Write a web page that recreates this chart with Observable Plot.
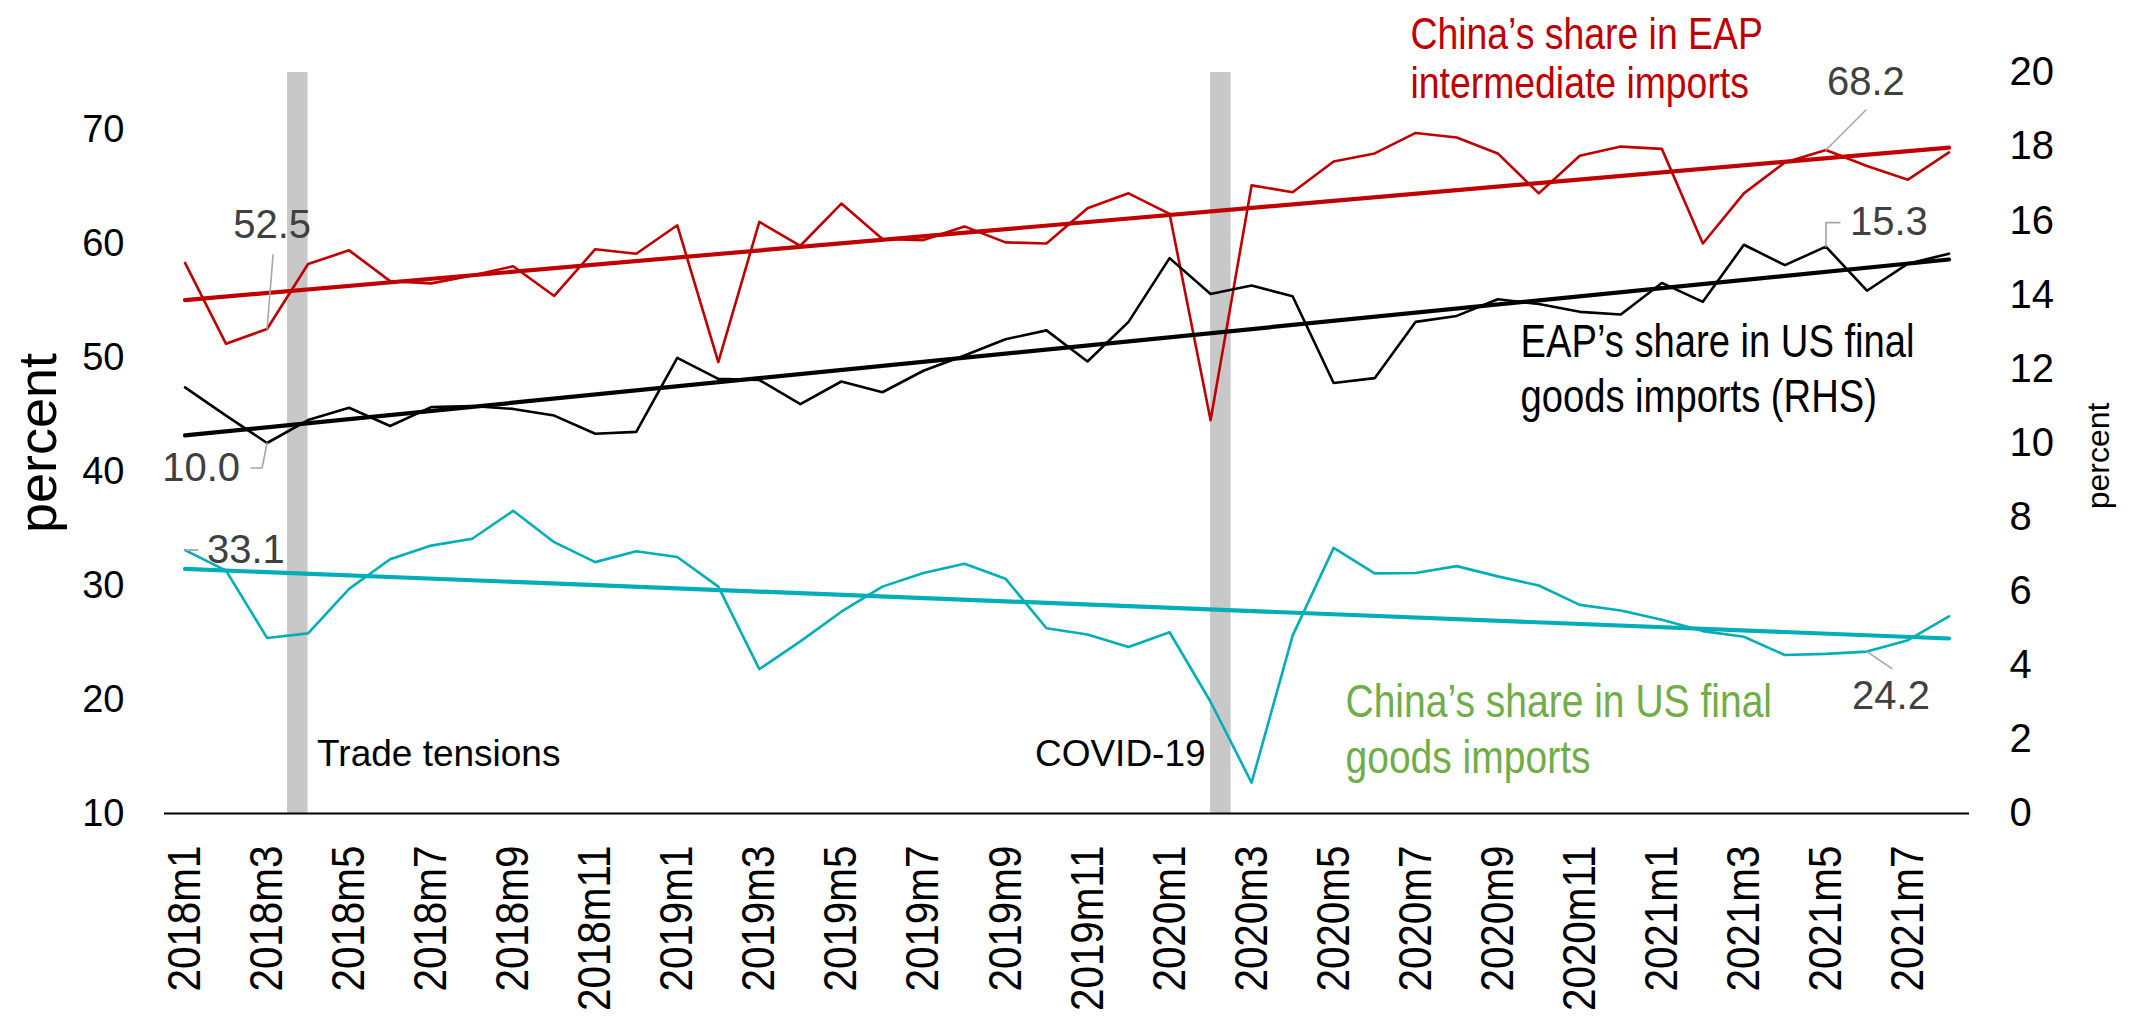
<!DOCTYPE html>
<html>
<head>
<meta charset="utf-8">
<script src="https://cdn.jsdelivr.net/npm/d3@7"></script>
<script src="https://cdn.jsdelivr.net/npm/@observablehq/plot@0.6"></script>
<style>
  html, body { margin: 0; padding: 0; background: #fff; }
  #chart svg { display: block; }
</style>
</head>
<body>
<div id="chart"></div>
<script>
// ---------- data ----------
const months = [
  "2018m1","2018m2","2018m3","2018m4","2018m5","2018m6","2018m7","2018m8","2018m9","2018m10","2018m11","2018m12",
  "2019m1","2019m2","2019m3","2019m4","2019m5","2019m6","2019m7","2019m8","2019m9","2019m10","2019m11","2019m12",
  "2020m1","2020m2","2020m3","2020m4","2020m5","2020m6","2020m7","2020m8","2020m9","2020m10","2020m11","2020m12",
  "2021m1","2021m2","2021m3","2021m4","2021m5","2021m6","2021m7","2021m8"
];
const tickLabels = [
  "2018m1","2018m3","2018m5","2018m7","2018m9","2018m11",
  "2019m1","2019m3","2019m5","2019m7","2019m9","2019m11",
  "2020m1","2020m3","2020m5","2020m7","2020m9","2020m11",
  "2021m1","2021m3","2021m5","2021m7"
];
// China's share in EAP intermediate imports (left axis, percent)
const chinaEAPIntermediate = [
  58.3,51.2,52.5,58.2,59.4,56.7,56.5,57.2,58.0,55.4,59.5,59.1,
  61.6,49.6,61.9,59.8,63.5,60.4,60.3,61.5,60.1,60.0,63.1,64.4,
  62.6,44.5,65.1,64.5,67.2,67.9,69.7,69.3,67.9,64.4,67.7,68.5,
  68.3,60.0,64.4,67.1,68.2,66.8,65.6,68.0
];
// EAP's share in US final goods imports (right axis, percent)
const eapUSFinal = [
  11.5,10.74,10.0,10.62,10.95,10.46,10.97,11.0,10.92,10.74,10.25,10.3,
  12.3,11.73,11.7,11.05,11.66,11.37,11.95,12.36,12.8,13.04,12.2,13.27,
  14.99,14.02,14.25,13.96,11.62,11.75,13.27,13.43,13.88,13.75,13.54,13.47,
  14.32,13.81,15.35,14.8,15.3,14.11,14.84,15.11
];
// China's share in US final goods imports (left axis, percent)
const chinaUSFinal = [
  33.1,31.3,25.4,25.8,29.7,32.3,33.5,34.1,36.55,33.8,32.05,33.0,
  32.5,29.9,22.66,25.1,27.7,29.9,31.1,31.9,30.6,26.25,25.7,24.6,
  25.9,19.8,12.7,25.6,33.3,31.06,31.1,31.7,30.8,30.0,28.3,27.8,
  27.0,26.0,25.5,23.9,24.0,24.2,25.2,27.3
];
const leftTicks = [10,20,30,40,50,60,70];
const rightTicks = [0,2,4,6,8,10,12,14,16,18,20];
const leftDomain = [10, 75];
const rightDomain = [0, 20];
// shaded event periods (in month-index units)
const eventNames = ["Trade tensions", "COVID-19"];
const eventStart = [2.5, 25];
const eventEnd = [3, 25.5];
// callouts: series and month
const calloutSeries = ["red","black","red","black","cyan","cyan"];
const calloutMonth = ["2018m3","2018m3","2021m5","2021m5","2018m1","2021m6"];
const seriesLabels = [
  "China\u2019s share in EAP\nintermediate imports",
  "EAP\u2019s share in US final\ngoods imports (RHS)",
  "China\u2019s share in US final\ngoods imports"
];

// ---------- helpers ----------
const toLeft = r => leftDomain[0] + (r - rightDomain[0]) * (leftDomain[1]-leftDomain[0])/(rightDomain[1]-rightDomain[0]);
const toRight = l => rightDomain[0] + (l - leftDomain[0]) * (rightDomain[1]-rightDomain[0])/(leftDomain[1]-leftDomain[0]);

const data = months.map((m, i) => ({
  i, month: m,
  red: chinaEAPIntermediate[i],
  black: toLeft(eapUSFinal[i]),
  cyan: chinaUSFinal[i]
}));

const W = 2129, H = 1017;
const mL = 164, mR = 160, mT = 72, mB = 204;
const xDomain = [-0.5, months.length - 0.5];
const pxX = (W - mL - mR) / (xDomain[1] - xDomain[0]);
const pxY = (H - mT - mB) / (leftDomain[1] - leftDomain[0]);

const RED = "#C00000", BLACK = "#000000", CYAN = "#00AEB8", GREEN = "#70AD47";
const LABEL = "#404040", LEADER = "#A6A6A6";

// callout layout (pixel offsets from the data point)
const calloutLayout = {
  "red|2018m3":   {leader: [[0,0],[6,-74]], text: [5,-104], anchor: "middle"},
  "black|2018m3": {leader: [[0,0],[-5,25],[-16,25]], text: [-27,25], anchor: "end"},
  "red|2021m5":   {leader: [[0,0],[40,-40]], text: [40,-68], anchor: "middle"},
  "black|2021m5": {leader: [[0,0],[0,-24],[14,-24]], text: [24,-24], anchor: "start"},
  "cyan|2018m1":  {leader: [[0,0],[13,0]], text: [22,0], anchor: "start"},
  "cyan|2021m6":  {leader: [[0,0],[25,17]], text: [24,45], anchor: "middle"}
};
const srcValue = {
  red: i => chinaEAPIntermediate[i],
  black: i => eapUSFinal[i],
  cyan: i => chinaUSFinal[i]
};
const leaderPts = [];
const calloutText = [];
calloutSeries.forEach((s, k) => {
  const i = months.indexOf(calloutMonth[k]);
  const py = data[i][s];
  const lay = calloutLayout[s + "|" + calloutMonth[k]];
  lay.leader.forEach(([dx, dy]) => leaderPts.push({id: k, x: i + dx/pxX, y: py - dy/pxY}));
  calloutText.push({
    x: i + lay.text[0]/pxX, y: py - lay.text[1]/pxY,
    label: srcValue[s](i).toFixed(1), anchor: lay.anchor
  });
});

const events = eventNames.map((n, k) => ({name: n, start: eventStart[k], end: eventEnd[k]}));

const chart = Plot.plot({
  width: W, height: H,
  marginLeft: mL, marginRight: mR, marginTop: mT, marginBottom: mB,
  style: {fontFamily: "'Liberation Sans', Arial, sans-serif", background: "#fff", color: "#000", overflow: "visible"},
  x: {type: "linear", domain: xDomain, axis: null},
  y: {domain: leftDomain, axis: null},
  marks: [
    Plot.rect(events, {x1: "start", x2: "end", fill: "#C8C8C8"}),
    Plot.ruleY([leftDomain[0]], {stroke: BLACK, strokeWidth: 2.2}),
    Plot.line(data, {x: "i", y: "red", stroke: RED, strokeWidth: 2.6}),
    Plot.line(data, {x: "i", y: "black", stroke: BLACK, strokeWidth: 2.6}),
    Plot.line(data, {x: "i", y: "cyan", stroke: CYAN, strokeWidth: 2.6}),
    Plot.linearRegressionY(data, {x: "i", y: "red", stroke: RED, strokeWidth: 4.2, ci: 0}),
    Plot.linearRegressionY(data, {x: "i", y: "black", stroke: BLACK, strokeWidth: 4.2, ci: 0}),
    Plot.linearRegressionY(data, {x: "i", y: "cyan", stroke: CYAN, strokeWidth: 4.2, ci: 0}),
    Plot.line(leaderPts, {x: "x", y: "y", z: "id", stroke: LEADER, strokeWidth: 1.6}),
    Plot.text(calloutText.filter(d => d.anchor === "middle"), {x: "x", y: "y", text: "label", textAnchor: "middle", fill: LABEL, fontSize: 40}),
    Plot.text(calloutText.filter(d => d.anchor === "start"), {x: "x", y: "y", text: "label", textAnchor: "start", fill: LABEL, fontSize: 40}),
    Plot.text(calloutText.filter(d => d.anchor === "end"), {x: "x", y: "y", text: "label", textAnchor: "end", fill: LABEL, fontSize: 40}),
    // event labels
    Plot.text(events.slice(0,1), {x: "end", frameAnchor: "bottom", text: "name", textAnchor: "start", lineAnchor: "middle", dx: 9, dy: -59, fontSize: 37, fill: BLACK}),
    Plot.text(events.slice(1,2), {x: "start", frameAnchor: "bottom", text: "name", textAnchor: "end", lineAnchor: "middle", dx: -5, dy: -59, fontSize: 37, fill: BLACK}),
    // series labels
    Plot.text([seriesLabels[0]], {frameAnchor: "top-left", textAnchor: "start", lineAnchor: "top", dx: 1246, dy: -58, fontSize: 45, lineHeight: 1.09, fill: RED}),
    Plot.text([seriesLabels[1]], {frameAnchor: "top-left", textAnchor: "start", lineAnchor: "top", dx: 1356, dy: 245, fontSize: 46, lineHeight: 1.2, fill: BLACK}),
    Plot.text([seriesLabels[2]], {frameAnchor: "top-left", textAnchor: "start", lineAnchor: "top", dx: 1181, dy: 604, fontSize: 47, lineHeight: 1.2, fill: GREEN}),
    // axes
    Plot.axisY(leftTicks, {anchor: "left", tickSize: 0, tickPadding: 40, fontSize: 38, label: null}),
    Plot.axisY(rightTicks.map(toLeft), {anchor: "right", tickSize: 0, tickPadding: 40, fontSize: 40, label: null, tickFormat: d => String(Math.round(toRight(d)))}),
    Plot.axisX(tickLabels.map(t => months.indexOf(t)), {anchor: "bottom", tickSize: 0, tickPadding: 32, tickRotate: -90, fontSize: 47, label: null, tickFormat: i => months[i]}),
    Plot.text(["percent"], {frameAnchor: "left", rotate: -90, textAnchor: "middle", lineAnchor: "middle", dx: -126, fontSize: 54, fill: BLACK}),
    Plot.text(["percent"], {frameAnchor: "right", rotate: -90, textAnchor: "middle", lineAnchor: "middle", dx: 129, dy: 13, fontSize: 32, fill: BLACK})
  ]
});
document.getElementById("chart").appendChild(chart);

// condense the annotation and x-tick fonts (narrow face look)
function condenseEl(el, k) {
  const L = el.getComputedTextLength();
  if (L > 0) {
    el.setAttribute("textLength", (L * k).toFixed(1));
    el.setAttribute("lengthAdjust", "spacingAndGlyphs");
  }
}
const monthRe = /^\d{4}m\d+$/;
const labelLines = new Set(seriesLabels.flatMap(s => s.split("\n")));
chart.querySelectorAll("text").forEach(t => {
  const spans = t.querySelectorAll("tspan");
  if (spans.length) {
    spans.forEach(sp => { if (labelLines.has(sp.textContent)) condenseEl(sp, 0.83); });
  } else {
    const s = t.textContent;
    if (monthRe.test(s)) condenseEl(t, 0.86);
    else if (labelLines.has(s)) condenseEl(t, 0.83);
  }
});
</script>
</body>
</html>
